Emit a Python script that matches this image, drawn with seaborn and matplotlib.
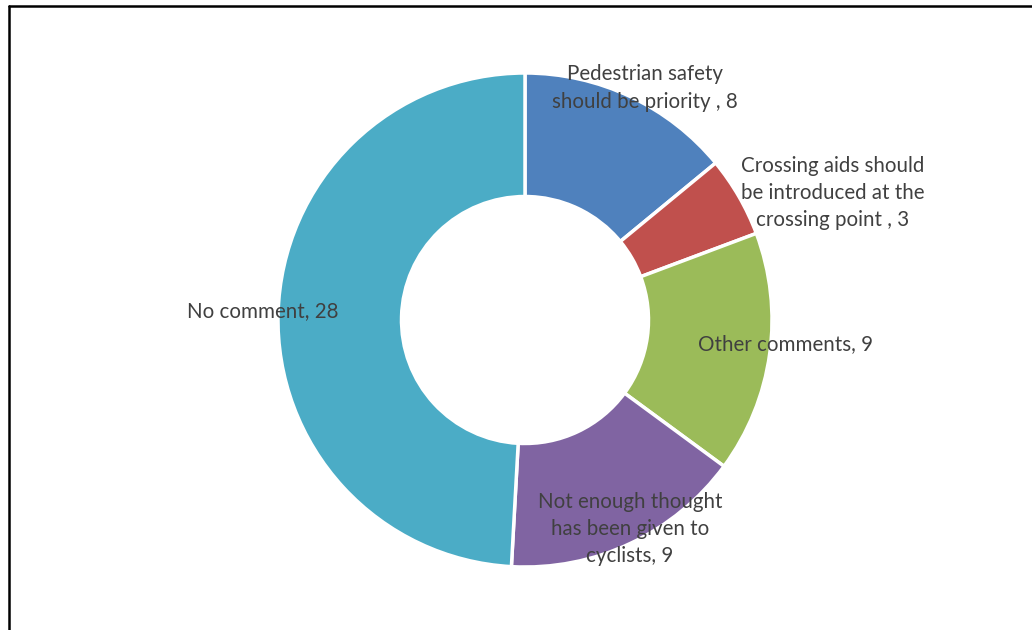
import matplotlib
matplotlib.use("Agg")
import matplotlib.pyplot as plt
import seaborn as sns

# survey comments
categories = [
    "Pedestrian safety\nshould be priority , 8",
    "Crossing aids should\nbe introduced at the\ncrossing point , 3",
    "Other comments, 9",
    "Not enough thought\nhas been given to\ncyclists, 9",
    "No comment, 28",
]
counts = [8, 3, 9, 9, 28]
colors = ["#4F81BD", "#C0504D", "#9BBB59", "#8064A2", "#4BACC6"]

# label anchor points (pixels from top-left), layout only
label_xy = [(645, 88), (833, 193), (785, 344), (630, 529), (263, 311)]

W, H = 1032, 630
sns.set_theme(style="white")
plt.rcParams["font.family"] = ["Lato", "DejaVu Sans"]

fig = plt.figure(figsize=(W / 100, H / 100), dpi=100)
ax = fig.add_axes([0, 0, 1, 1])

ax.pie(counts, colors=colors, startangle=90, counterclock=False,
       center=(525, H - 320), radius=247,
       wedgeprops=dict(width=247 * 0.5, edgecolor="white", linewidth=2.5))

for lab, (x, y) in zip(categories, label_xy):
    ax.text(x, H - y, lab, ha="center", va="center", fontsize=14.8,
            color="#404040", linespacing=1.45)

ax.set_xlim(0, W)
ax.set_ylim(0, H)
ax.set_aspect("auto")
ax.axis("off")

# chart frame (cut off at right and bottom)
fig.add_artist(plt.Line2D([8.5 / W, 8.5 / W], [0, 1 - 5.5 / H], color="black", lw=1.8,
                          transform=fig.transFigure))
fig.add_artist(plt.Line2D([8.5 / W, 1], [1 - 5.5 / H, 1 - 5.5 / H], color="black", lw=1.8,
                          transform=fig.transFigure))

fig.savefig("out.png", dpi=100)
